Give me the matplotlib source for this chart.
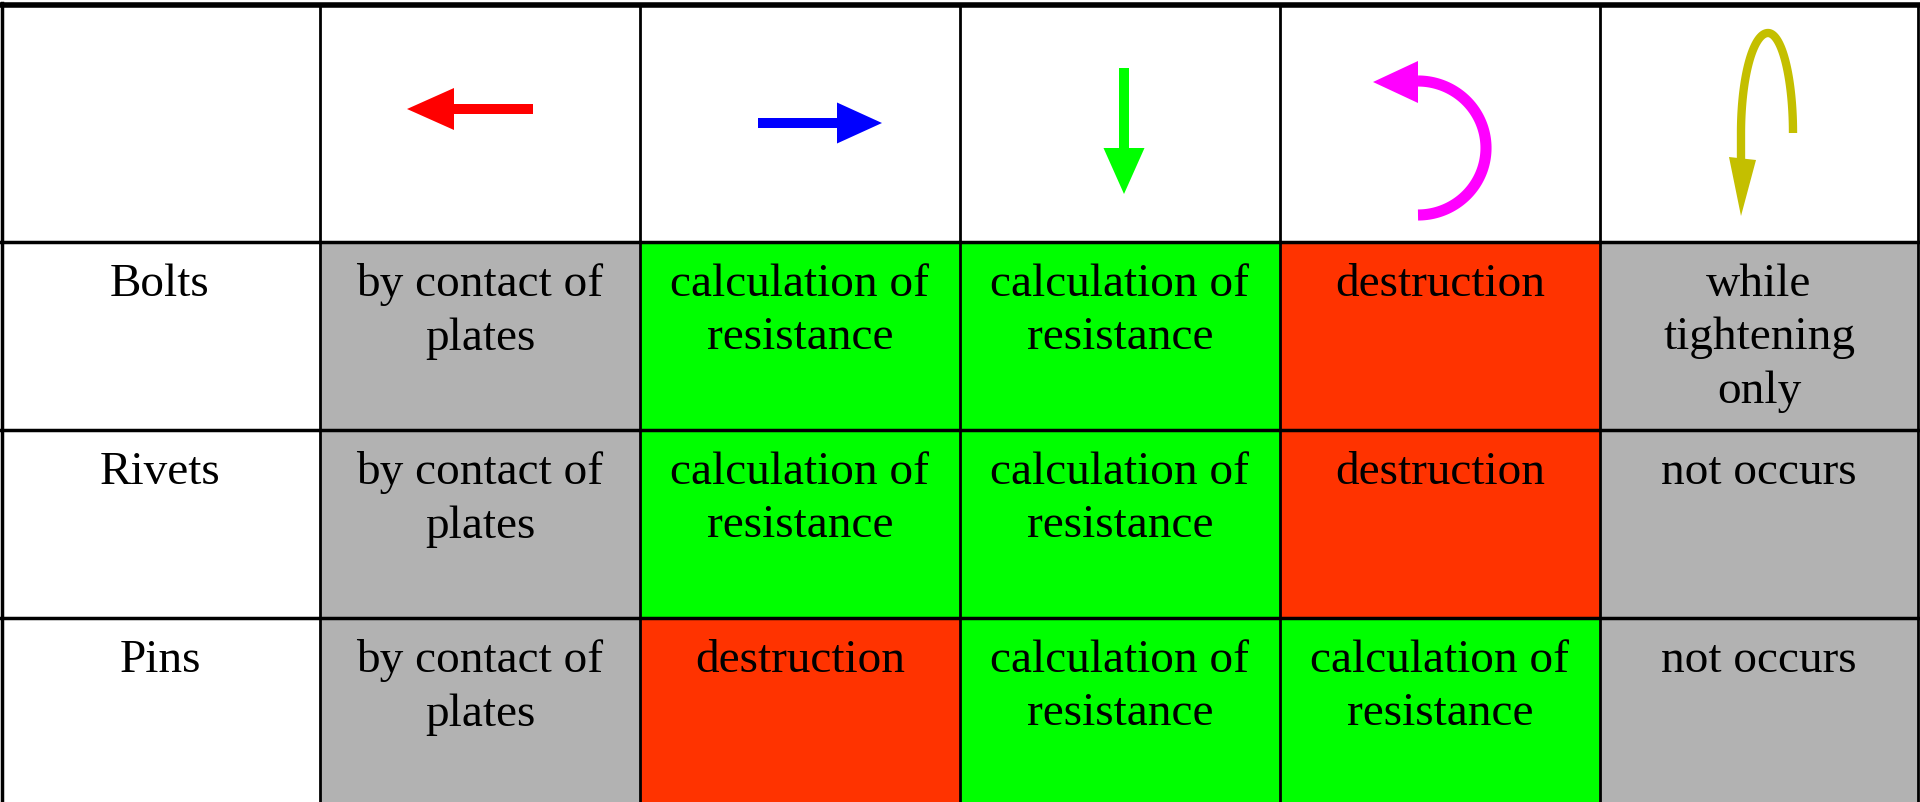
import numpy as np
import matplotlib.pyplot as plt
from matplotlib.patches import Rectangle, Polygon

# dados da tabela
row_labels = ['Bolts', 'Rivets', 'Pins']
cell_text = [
    ['by contact of\nplates', 'calculation of\nresistance', 'calculation of\nresistance',
     'destruction', 'while\ntightening\nonly'],
    ['by contact of\nplates', 'calculation of\nresistance', 'calculation of\nresistance',
     'destruction', 'not occurs'],
    ['by contact of\nplates', 'destruction', 'calculation of\nresistance',
     'calculation of\nresistance', 'not occurs'],
]
cell_kind = [
    ['gray', 'green', 'green', 'red', 'gray'],
    ['gray', 'green', 'green', 'red', 'gray'],
    ['gray', 'red', 'green', 'green', 'gray'],
]
kind_color = {'gray': '#b2b2b2', 'green': '#00ff00', 'red': '#ff3300'}

# geometria (pixels)
W, H = 1920, 802
col_x = [0, 320, 640, 960, 1280, 1600, 1918]
row_y = [5, 242, 430, 618, 802]

fig = plt.figure(figsize=(W / 100, H / 100), dpi=100)
ax = fig.add_axes([0, 0, 1, 1])
ax.set_xlim(0, W)
ax.set_ylim(H, 0)
ax.axis('off')

# celulas coloridas
for i in range(3):
    for j in range(5):
        x0, x1 = col_x[j + 1], col_x[j + 2]
        y0, y1 = row_y[i + 1], row_y[i + 2]
        ax.add_patch(Rectangle((x0, y0), x1 - x0, y1 - y0,
                               facecolor=kind_color[cell_kind[i][j]], edgecolor='none'))

# textos
font = 'Liberation Serif'
for i in range(3):
    y0 = row_y[i + 1]
    ax.text((col_x[0] + col_x[1]) / 2, y0 + 21, row_labels[i], ha='center', va='top',
            fontsize=34, family=font, linespacing=1.34)
    for j in range(5):
        xc = (col_x[j + 1] + col_x[j + 2]) / 2
        ax.text(xc, y0 + 21, cell_text[i][j], ha='center', va='top',
                fontsize=34, family=font, linespacing=1.34)

# linhas da grade
for x in col_x[1:]:
    ax.plot([x, x], [row_y[0], H], color='black', linewidth=2)
for y in row_y[1:-1]:
    ax.plot([0, col_x[-1]], [y, y], color='black', linewidth=2.5)
ax.plot([0, col_x[-1] + 1], [4.5, 4.5], color='black', linewidth=4)
ax.plot([1.5, 1.5], [3, H], color='black', linewidth=2.5)

# setas do cabecalho
ax.arrow(533, 109, -126, 0, width=10, head_width=42, head_length=47,
         length_includes_head=True, color='#ff0000', linewidth=0)
ax.arrow(758, 123, 124, 0, width=10, head_width=41, head_length=45,
         length_includes_head=True, color='#0000ff', linewidth=0)
ax.arrow(1124, 68, 0, 126, width=10, head_width=41, head_length=46,
         length_includes_head=True, color='#00ff00', linewidth=0)

# seta curva (magenta)
t = np.linspace(np.pi / 2, -np.pi / 2, 100)
ax.plot(1418 + 68 * np.cos(t), 148 - 67 * np.sin(t), color='#ff00ff',
        linewidth=8, solid_capstyle='butt')
ax.add_patch(Polygon([[1373, 82], [1418, 61], [1418, 103]], color='#ff00ff', linewidth=0))

# seta em laco (oliva)
t1 = np.linspace(0, np.pi / 2, 50)
t2 = np.linspace(np.pi / 2, np.pi, 50)
lx = np.concatenate([1768 + 25 * np.cos(t1), 1768 + 27 * np.cos(t2), [1741]])
ly = np.concatenate([133 - 100 * np.sin(t1), 133 - 100 * np.sin(t2), [165]])
ax.plot(lx, ly, color='#c4bf00', linewidth=6, solid_capstyle='butt')
ax.add_patch(Polygon([[1741, 216], [1729, 157], [1756, 160]], color='#c4bf00', linewidth=0))

fig.savefig('out.png', dpi=100)
